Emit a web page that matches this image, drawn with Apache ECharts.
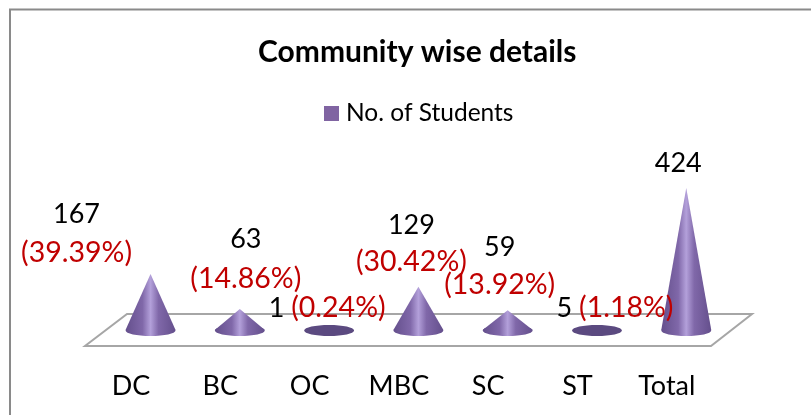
<!DOCTYPE html>
<html><head><meta charset="utf-8">
<style>html,body{margin:0;padding:0;background:#fff}#c{width:811px;height:415px}</style>
<script src="https://cdn.jsdelivr.net/npm/echarts@6/dist/echarts.min.js"></script>
</head><body><div id="c"></div>
<script>
const categories = ['DC','BC','OC','MBC','SC','ST','Total'];
const students = [167,63,1,129,59,5,424];
const shares = [39.39,14.86,0.24,30.42,13.92,1.18,null];
const seriesName = 'No. of Students';
const titleText = 'Community wise details';

// layout only
const FONT = 'Lato';
const coneShift = 19.5, rx = 25, ry = 5.5;
const labelShift = [-74,6,-2,-7,-8,18,-8];
const labelTop = [214,239,308,225,247,308,163];
const labelGap = [39,40,0,37,38,0,0];
const inlineLabel = [false,false,true,false,false,true,false];

const chart = echarts.init(document.getElementById('c'),null,{renderer:'canvas'});
const grad = ()=>new echarts.graphic.LinearGradient(0,0,1,0,[
  {offset:0,color:'#644f8c'},{offset:.34,color:'#8068a9'},{offset:.5,color:'#b3a0da'},
  {offset:.66,color:'#8068a9'},{offset:1,color:'#644f8c'}]);

function renderCone(params, api){
  const i = api.value(0), v = api.value(1);
  const base = api.coord([i,0]), top = api.coord([i,v]);
  const cx = base[0]+coneShift, cy = base[1], ay = top[1];
  const h = cy-ay;
  const kids = [];
  if(h<=ry*1.2){
    kids.push({type:'ellipse',shape:{cx,cy:cy+0.5,rx,ry},style:{fill:'#5b4a80'}});
  } else {
    kids.push({type:'ellipse',shape:{cx,cy:cy+0.5,rx,ry},style:{fill:grad()}});
    kids.push({type:'polygon',shape:{points:[[cx,ay],[cx+rx,cy],[cx-rx,cy]]},style:{fill:grad()}});
  }
  const mid = cx+labelShift[i];
  const share = shares[i];
  const count = String(v);
  const pct = share==null?'':'('+share.toFixed(2)+'%)';
  const base2 = {fontFamily:FONT,fontSize:27,align:'center',verticalAlign:'middle'};
  const pctStyle = {fontFamily:FONT,fontSize:28.5,align:'center',verticalAlign:'middle',fill:'#c00000'};
  const y0 = labelTop[i];
  if(inlineLabel[i]){
    kids.push({type:'text',z2:10,style:Object.assign({},base2,{x:mid,y:y0,text:'{n|'+count+' }{p|'+pct+'}',
      rich:{n:{fill:'#000',fontSize:27,fontFamily:FONT},p:{fill:'#c00000',fontSize:28.5,fontFamily:FONT}}})});
  } else {
    kids.push({type:'text',z2:10,style:Object.assign({},base2,{x:mid,y:y0,text:count,fill:'#000'})});
    if(pct) kids.push({type:'text',z2:10,style:Object.assign({},pctStyle,{x:mid,y:y0+labelGap[i],text:pct})});
  }
  return {type:'group',children:kids};
}

chart.setOption({
  animation:false,
  backgroundColor:'#fff',
  title:{text:titleText,left:253,top:32,
    textStyle:{fontFamily:FONT,fontSize:30,fontWeight:'bold',color:'#000'}},
  legend:{top:96,left:319,itemWidth:15,itemHeight:15,icon:'rect',itemGap:8,
    textStyle:{fontFamily:FONT,fontSize:24.5,color:'#000',padding:[0,0,0,2]},data:[seriesName]},
  grid:{left:86.4,width:625,top:188,bottom:85},
  xAxis:{type:'category',data:categories,axisLine:{show:false},axisTick:{show:false},
    axisLabel:{fontFamily:FONT,fontSize:27,color:'#000',margin:43,interval:0}},
  yAxis:{type:'value',min:0,max:424,show:false},
  graphic:[
    {type:'polyline',z:-1,shape:{points:[[10,415],[10,9.5],[811,9.5]]},style:{stroke:'#8a8a8a',lineWidth:2,fill:null}},
    {type:'polygon',z:-1,shape:{points:[[85,346],[711,346],[752,314],[127,314]]},style:{stroke:'#a6a6a6',lineWidth:2,fill:'#fff'}}
  ],
  series:[{type:'custom',name:seriesName,renderItem:renderCone,itemStyle:{color:'#8064a2'},
    encode:{x:0,y:1},data:students.map((v,i)=>[i,v]),clip:false,z:5}]
});
</script></body></html>
